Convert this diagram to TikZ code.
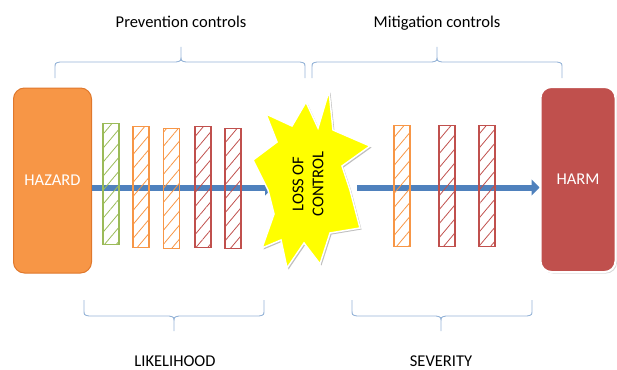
\documentclass[tikz,border=0pt]{standalone}
\usepackage{fontspec}
\setmainfont{Carlito}
\usetikzlibrary{arrows.meta,patterns.meta,shadows}
\definecolor{hzorange}{HTML}{F79646}
\definecolor{hzborder}{HTML}{E0782C}
\definecolor{harmred}{HTML}{C0504D}
\definecolor{bgreen}{HTML}{9BBB59}
\definecolor{borange}{HTML}{F79646}
\definecolor{bred}{HTML}{C0504D}
\definecolor{arrowblue}{HTML}{4F81BD}
\definecolor{bracecol}{HTML}{95B3D7}
\definecolor{burst}{HTML}{FFFF00}
\begin{document}
\begin{tikzpicture}[x=1pt,y=-1pt,
  font=\fontsize{16.5}{20}\selectfont,
  endbox/.style={rounded corners=11pt, text=white, inner sep=0pt,
    minimum width=78pt, minimum height=185pt},
  barrier/.style={draw=#1, line width=1.1pt,
    pattern={Lines[angle=50,distance=9pt,line width=0.8pt]},
    pattern color=#1, minimum width=16pt, inner sep=0pt, anchor=north},
  flow/.style={arrowblue, line width=6pt, -{Triangle[length=8pt,width=16pt]}},
  bracestyle/.style={bracecol, line width=0.9pt},
  lbl/.style={anchor=base, inner sep=0pt}]
\useasboundingbox (0,0) rectangle (617,369);

% end boxes
\node[endbox, fill=hzorange, draw=hzborder, line width=1pt] (hazard) at (52.5,180.5) {HAZARD};
\node[endbox, fill=harmred, draw=white, line width=2pt, minimum width=75pt,
  drop shadow={shadow xshift=1.5pt, shadow yshift=-1.5pt, fill=black!30}] (harm) at (578,179.5) {HARM};

% arrows
\coordinate (a1e) at (273,187.5);
\coordinate (a2s) at (357,187.5);
\draw[flow] (hazard.east |- a1e) -- (a1e);
\draw[flow] (a2s) -- (harm.west |- a2s);

% barriers
\node[barrier=bgreen, minimum height=121pt] (b1) at (111,123) {};
\node[barrier=borange, minimum height=121pt] (b2) at (141,126) {};
\node[barrier=borange, minimum height=120pt] (b3) at (171.5,128) {};
\node[barrier=bred, minimum height=121pt] (b4) at (203,126) {};
\node[barrier=bred, minimum height=120pt] (b5) at (233,128) {};
\node[barrier=borange, minimum height=121pt] (b6) at (402,125) {};
\node[barrier=bred, minimum height=121pt] (b7) at (447,125) {};
\node[barrier=bred, minimum height=121pt] (b8) at (487,125) {};

% starburst
\filldraw[fill=burst, draw=white, line width=1.5pt,
  preaction={fill=black!25, transform canvas={shift={(1.5pt,-1.5pt)}}}]
  (329,91) -- (333,130) -- (370,146) -- (342,166) -- (350,190) -- (360,228)
  -- (330,233) -- (320,264) -- (304,243) -- (287,268) -- (281,240)
  -- (262,248) -- (274,214) -- (268,190) -- (253,160) -- (277,142)
  -- (266,114) -- (292,126) -- (306,102) -- (318,128) -- cycle;
\node[rotate=90, align=center, inner sep=0pt] (loss) at (308,184) {LOSS OF\\CONTROL};

% braces
\draw[bracestyle] (55,78) -- (55,68) .. controls (55,63) .. (60,62) -- (176,62)
  .. controls (181,61) .. (181,56) -- (181,47) (181,56) .. controls (181,61) .. (186,62)
  -- (300,62) .. controls (305,63) .. (305,68) -- (305,78);
\draw[bracestyle] (312,78) -- (312,68) .. controls (312,63) .. (317,62) -- (432,62)
  .. controls (437,61) .. (437,56) -- (437,47) (437,56) .. controls (437,61) .. (442,62)
  -- (557,62) .. controls (562,63) .. (562,68) -- (562,78);
\draw[bracestyle] (84,300) -- (84,310) .. controls (84,315) .. (89,316) -- (169,316)
  .. controls (174,317) .. (174,322) -- (174,331) (174,322) .. controls (174,317) .. (179,316)
  -- (259,316) .. controls (264,315) .. (264,310) -- (264,300);
\draw[bracestyle] (352,300) -- (352,310) .. controls (352,315) .. (357,316) -- (436,316)
  .. controls (441,317) .. (441,322) -- (441,331) (441,322) .. controls (441,317) .. (446,316)
  -- (527,316) .. controls (532,315) .. (532,310) -- (532,300);

% labels
\node[lbl] (prev) at (181,28) {Prevention controls};
\node[lbl] (mitig) at (437,28) {Mitigation controls};
\node[lbl] (like) at (175,366) {LIKELIHOOD};
\node[lbl] (sev) at (441,366) {SEVERITY};
\end{tikzpicture}
\end{document}
